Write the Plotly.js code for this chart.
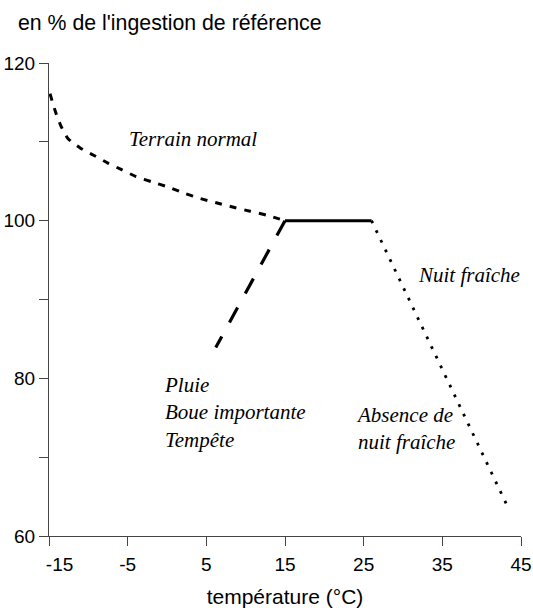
<!DOCTYPE html>
<html>
<head>
<meta charset="utf-8">
<script src="https://cdn.plot.ly/plotly-3.0.1.min.js"></script>
<style>html,body{margin:0;padding:0;background:#fff;}#chart{width:533px;height:608px;}</style>
</head>
<body>
<div id="chart"></div>
<script>
// Terrain normal (short dashes)
const normalX = [-14.87, -14.24, -13.52, -12.57, -11.0, -9.33, -7.52, -5.83, -3.94, -1.85, 0.04, 2.15, 4.26, 6.15, 8.46, 10.56, 12.65, 15];
const normalY = [116.1, 114.0, 112.1, 110.4, 109.2, 108.3, 107.3, 106.5, 105.6, 104.9, 104.3, 103.5, 102.8, 102.3, 101.7, 101.2, 100.7, 100];
// Pluie / Boue / Tempête (long dashes)
const pluieX = [15, 6.2];
const pluieY = [100, 83.9];
// Plateau (solid)
const plateauX = [15, 26];
const plateauY = [100, 100];
// Nuit fraîche / absence (dotted)
const nuitX = [26, 43.5];
const nuitY = [100, 63.3];

const xTicks = [-15, -5, 5, 15, 25, 35, 45];
const xTickText = ['\u00a0\u00a0\u00a0\u00a0-15', '-5', '5', '15', '25', '35', '45'];
const yTicks = [60, 70, 80, 90, 100, 110, 120];
const yTickText = ['60', '', '80', '', '100', '', '120'];

const labelTexts = ['Terrain normal', 'Nuit fraîche', 'Absence de<br>nuit fraîche', 'Pluie<br>Boue importante<br>Tempête'];
const labelX = [-5.1, 31.7, 23.8, -0.6];
const labelY = [110.3, 93.1, 73.6, 75.7];

const black = '#000';
const traces = [
  {x: normalX, y: normalY, mode: 'lines', line: {color: black, width: 3, dash: '7px,8px', shape: 'spline', smoothing: 0.6}, hoverinfo: 'skip'},
  {x: pluieX, y: pluieY, mode: 'lines', line: {color: black, width: 3.2, dash: '17px,16px'}, hoverinfo: 'skip'},
  {x: plateauX, y: plateauY, mode: 'lines', line: {color: black, width: 3}, hoverinfo: 'skip'},
  {x: nuitX, y: nuitY, mode: 'lines', line: {color: black, width: 2.8, dash: '2.8px,7.9px'}, hoverinfo: 'skip'}
];

const annFont = {family: 'Liberation Serif, Times New Roman, serif', size: 21, color: '#000', style: 'italic'};
const annotations = labelTexts.map((t, i) => ({
  x: labelX[i], y: labelY[i], xref: 'x', yref: 'y', text: '<i>' + t + '</i>',
  showarrow: false, xanchor: 'left', yanchor: 'middle', align: 'left', font: annFont
}));

const sans = 'Liberation Sans, Arial, Helvetica, sans-serif';
const layout = {
  width: 533, height: 608,
  margin: {l: 49, r: 12, t: 63, b: 72},
  paper_bgcolor: '#fff', plot_bgcolor: '#fff',
  showlegend: false,
  title: {text: "en % de l'ingestion de référence", x: 18/533, xanchor: 'left', y: 1 - 23/608, yanchor: 'middle', font: {family: sans, size: 21.3, color: '#000'}},
  xaxis: {
    range: [-15, 45], tickvals: xTicks, ticktext: xTickText, ticks: 'outside', ticklen: 9, tickcolor: '#444', tickwidth: 1,
    showline: true, linecolor: '#444', linewidth: 1, showgrid: false, zeroline: false,
    tickfont: {family: sans, size: 19, color: '#000'}, ticklabelstandoff: 2, ticklabeloverflow: 'allow',
    title: {text: 'température (°C)', font: {family: sans, size: 21, color: '#000'}}
  },
  yaxis: {
    range: [60, 120], tickvals: yTicks, ticktext: yTickText, ticks: 'outside', ticklen: 9, tickcolor: '#444', tickwidth: 1,
    showline: true, linecolor: '#444', linewidth: 1, showgrid: false, zeroline: false,
    tickfont: {family: sans, size: 19, color: '#000'}
  },
  annotations: annotations
};

Plotly.newPlot('chart', traces, layout, {displayModeBar: false, staticPlot: true});
</script>
</body>
</html>
